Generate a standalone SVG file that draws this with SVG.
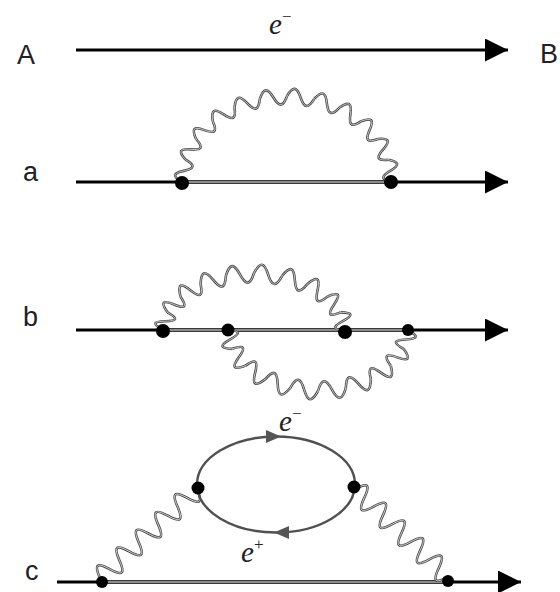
<svg xmlns="http://www.w3.org/2000/svg" xmlns:xlink="http://www.w3.org/1999/xlink" width="560" height="592" viewBox="0 0 560 592">
<style>
.lbl{font-family:"Liberation Sans",Arial,sans-serif;font-size:27px;fill:#222}
.em{font-family:"Liberation Serif","Times New Roman",serif;font-style:italic;font-size:29px;fill:#222}
.sup{font-size:17px;font-style:normal}
.line{stroke:#000;stroke-width:3;fill:none}
.dlo{stroke:#3a3a3a;stroke-width:4;fill:none}
.dli{stroke:#a8a8a8;stroke-width:1.3;fill:none}
.po{fill:none;stroke:#4a4a4a;stroke-width:2.6;stroke-linejoin:round}
.pi{fill:none;stroke:#d4d4d4;stroke-width:0.9;stroke-linejoin:round}
.loop{fill:none;stroke:#505050;stroke-width:2.4}
.garr{fill:#555}
.dot{fill:#000}
</style>
<defs>
<marker id="ah" markerUnits="userSpaceOnUse" markerWidth="24" markerHeight="24" refX="23" refY="11.5" orient="auto">
<path d="M0,0 L23,11.5 L0,23 z" fill="#000"/>
</marker>
<path id="w" d="M0,0 C1.8,-10.5 3.2,-10.5 5,0 S8.2,10.5 10,0" vector-effect="non-scaling-stroke"/>
<path id="w2" d="M0,0 C1.8,-12 3.2,-12 5,0 S8.2,12 10,0" vector-effect="non-scaling-stroke"/>
<g id="pa">
<use href="#w" transform="translate(182,182) rotate(-80.86) scale(2.255,1)"/>
<use href="#w" transform="translate(185.58,159.74) rotate(-63.17) scale(2.324,1)"/>
<use href="#w" transform="translate(196.07,139) rotate(-46.88) scale(2.44,1)"/>
<use href="#w" transform="translate(212.75,121.19) rotate(-32.15) scale(2.569,1)"/>
<use href="#w" transform="translate(234.5,107.52) rotate(-18.73) scale(2.675,1)"/>
<use href="#w" transform="translate(259.83,98.93) rotate(-6.15) scale(2.733,1)"/>
<use href="#w" transform="translate(287,96) rotate(6.15) scale(2.733,1)"/>
<use href="#w" transform="translate(314.17,98.93) rotate(18.73) scale(2.675,1)"/>
<use href="#w" transform="translate(339.5,107.52) rotate(32.15) scale(2.569,1)"/>
<use href="#w" transform="translate(361.25,121.19) rotate(46.88) scale(2.44,1)"/>
<use href="#w" transform="translate(377.93,139) rotate(63.17) scale(2.324,1)"/>
<use href="#w" transform="translate(388.42,159.74) rotate(80.86) scale(2.255,1)"/>
</g>
<g id="pb1">
<use href="#w2" transform="translate(163,330) rotate(-75.82) scale(1.816,1)"/>
<use href="#w2" transform="translate(167.45,312.39) rotate(-50.86) scale(2.049,1)"/>
<use href="#w2" transform="translate(180.38,296.5) rotate(-32.06) scale(2.375,1)"/>
<use href="#w2" transform="translate(200.51,283.89) rotate(-17.71) scale(2.663,1)"/>
<use href="#w2" transform="translate(225.88,275.79) rotate(-5.67) scale(2.826,1)"/>
<use href="#w2" transform="translate(254,273) rotate(5.67) scale(2.826,1)"/>
<use href="#w2" transform="translate(282.12,275.79) rotate(17.71) scale(2.663,1)"/>
<use href="#w2" transform="translate(307.49,283.89) rotate(32.06) scale(2.375,1)"/>
<use href="#w2" transform="translate(327.62,296.5) rotate(50.86) scale(2.049,1)"/>
<use href="#w2" transform="translate(340.55,312.39) rotate(75.82) scale(1.816,1)"/>
</g>
<g id="pb2">
<use href="#w2" transform="translate(228,330) rotate(76.86) scale(1.936,1)"/>
<use href="#w2" transform="translate(232.4,348.85) rotate(53.06) scale(2.128,1)"/>
<use href="#w2" transform="translate(245.19,365.86) rotate(34.12) scale(2.405,1)"/>
<use href="#w2" transform="translate(265.1,379.35) rotate(19.07) scale(2.655,1)"/>
<use href="#w2" transform="translate(290.19,388.02) rotate(6.12) scale(2.797,1)"/>
<use href="#w2" transform="translate(318,391) rotate(-6.12) scale(2.797,1)"/>
<use href="#w2" transform="translate(345.81,388.02) rotate(-19.07) scale(2.655,1)"/>
<use href="#w2" transform="translate(370.9,379.35) rotate(-34.12) scale(2.405,1)"/>
<use href="#w2" transform="translate(390.81,365.86) rotate(-53.06) scale(2.128,1)"/>
<use href="#w2" transform="translate(403.6,348.85) rotate(-76.86) scale(1.936,1)"/>
</g>
<path id="pc1" transform="translate(100,578) rotate(-42.54)" d="M0,0 c4.74,-14 8.42,-14 13.16,0 s8.42,14 13.16,0 s8.42,-14 13.16,0 s8.42,14 13.16,0 s8.42,-14 13.16,0 s8.42,14 13.16,0 s8.42,-14 13.16,0 s8.42,14 13.16,0 s8.42,-14 13.16,0 s8.42,14 13.16,0"/>
<path id="pc2" transform="translate(355,489) rotate(43.42)" d="M0,0 c4.61,-14 8.19,-14 12.8,0 s8.19,14 12.8,0 s8.19,-14 12.8,0 s8.19,14 12.8,0 s8.19,-14 12.8,0 s8.19,14 12.8,0 s8.19,-14 12.8,0 s8.19,14 12.8,0 s8.19,-14 12.8,0 s8.19,14 12.8,0"/>
</defs>
<rect width="560" height="592" fill="#fff"/>
<g id="labels">
<text class="lbl" x="17" y="64">A</text>
<text class="lbl" x="540" y="63">B</text>
<text class="lbl" x="23" y="181">a</text>
<text class="lbl" x="23" y="326">b</text>
<text class="lbl" x="25" y="580">c</text>
<text class="em" x="269" y="34">e<tspan class="sup" dy="-12">−</tspan></text>
<text class="em" x="279" y="431">e<tspan class="sup" dy="-12">−</tspan></text>
<text class="em" x="241" y="562">e<tspan class="sup" dy="-12">+</tspan></text>
</g>
<g id="connectors">
<path class="line" d="M76,50 H508" marker-end="url(#ah)"/>
<path class="line" d="M76,182 H182"/>
<path class="dlo" d="M182,182 H392"/>
<path class="dli" d="M182,182 H392"/>
<path class="line" d="M392,182 H508" marker-end="url(#ah)"/>
<path class="line" d="M76,330 H163"/>
<path class="dlo" d="M163,330 H408"/>
<path class="dli" d="M163,330 H408"/>
<path class="line" d="M408,330 H508" marker-end="url(#ah)"/>
<path class="line" d="M57,582 H102"/>
<path class="dlo" d="M102,582 H448"/>
<path class="dli" d="M102,582 H448"/>
<path class="line" d="M448,582 H521" marker-end="url(#ah)"/>
<use href="#pa" class="po"/><use href="#pa" class="pi"/>
<use href="#pb1" class="po"/><use href="#pb1" class="pi"/>
<use href="#pb2" class="po"/><use href="#pb2" class="pi"/>
<use href="#pc1" class="po"/><use href="#pc1" class="pi"/>
<use href="#pc2" class="po"/><use href="#pc2" class="pi"/>
<ellipse class="loop" cx="276" cy="484.5" rx="79" ry="48"/>
<polygon class="garr" points="281,436.5 266,430 266,443"/>
<polygon class="garr" points="274,532.5 289,526 289,539"/>
</g>
<g id="v-a1"><circle class="dot" cx="182" cy="183" r="7"/></g>
<g id="v-a2"><circle class="dot" cx="391" cy="182" r="7"/></g>
<g id="v-b1"><circle class="dot" cx="163" cy="331" r="7"/></g>
<g id="v-b2"><circle class="dot" cx="228" cy="330" r="6.5"/></g>
<g id="v-b3"><circle class="dot" cx="345" cy="332" r="7"/></g>
<g id="v-b4"><circle class="dot" cx="408" cy="330" r="6"/></g>
<g id="v-c1"><circle class="dot" cx="102" cy="582" r="6"/></g>
<g id="v-c2"><circle class="dot" cx="448" cy="581" r="6"/></g>
<g id="v-c3"><circle class="dot" cx="198" cy="488" r="6.5"/></g>
<g id="v-c4"><circle class="dot" cx="354" cy="487" r="6.5"/></g>
</svg>
